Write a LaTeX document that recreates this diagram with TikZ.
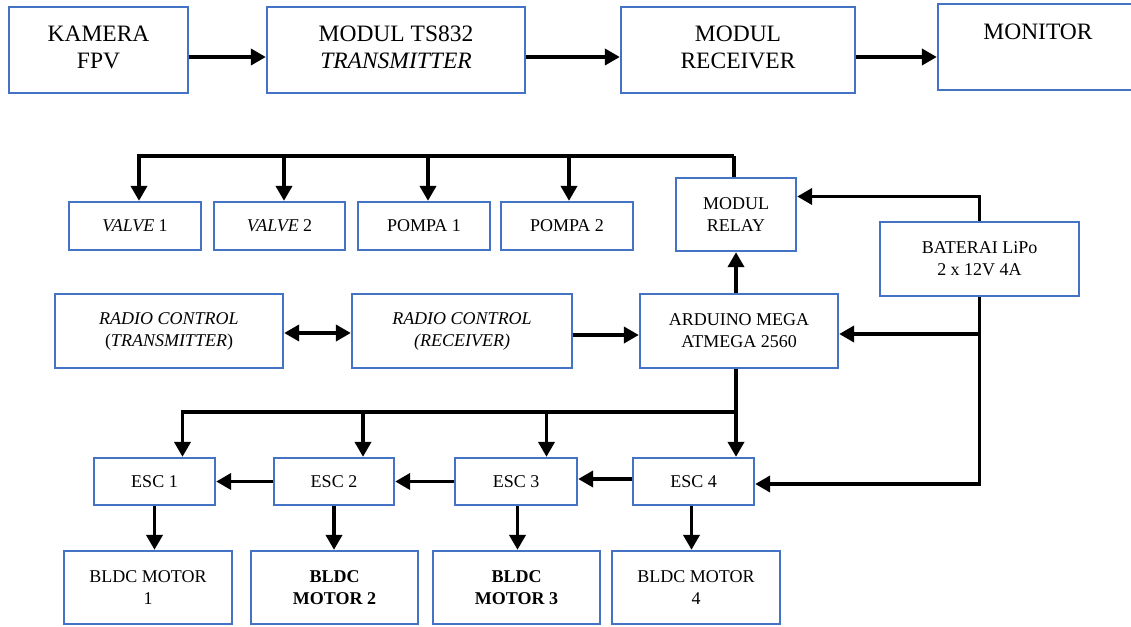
\documentclass[tikz,border=0pt]{standalone}
\usepackage{fontspec}
\setmainfont{Liberation Serif}
\usetikzlibrary{arrows.meta}
\definecolor{boxblue}{HTML}{4472C4}
\tikzset{
  box/.style={draw=boxblue, line width=2.3pt, align=center, inner sep=0pt, fill=white},
  bigfont/.style={font=\fontsize{23.5}{27}\selectfont},
  bigbox/.style={box, bigfont},
  bigtext/.style={label={[bigfont, align=center, yshift=3pt]center:{#1}}},
  smallbox/.style={box, font=\fontsize{18}{22}\selectfont},
  wire/.style={line width=3.9pt, line join=miter},
  arr/.style={wire, -{Triangle[length=15pt,width=16pt]}},
  darr/.style={wire, {Triangle[length=15pt,width=16pt]}-{Triangle[length=15pt,width=16pt]}}
}
\begin{document}
\begin{tikzpicture}[x=1pt,y=-1pt]
\useasboundingbox (0,0) rectangle (1131,626);

% video link
\node[bigbox, minimum width=179, minimum height=86, bigtext={KAMERA\\FPV}] (kam) at (98.5,50) {};
\node[bigbox, minimum width=258, minimum height=86, bigtext={MODUL TS832\\\textit{TRANSMITTER}}] (ts) at (396,50) {};
\node[bigbox, minimum width=234, minimum height=86, bigtext={MODUL\\RECEIVER}] (rcv) at (738,50) {};
\node[box, minimum width=200, minimum height=86,
      label={[anchor=north, yshift=-18pt, bigfont]north:MONITOR}] (mon) at (1038,47) {};

\draw[arr] ([yshift=-7pt]kam.east) -- ([yshift=-7pt]ts.west);
\draw[arr] ([yshift=-7pt]ts.east) -- ([yshift=-7pt]rcv.west);
\draw[arr] ([yshift=-7pt]rcv.east) -- ([yshift=-10pt]mon.west);

% actuators
\node[smallbox, minimum width=132, minimum height=48] (v1) at (135,226) {\textit{VALVE} 1};
\node[smallbox, minimum width=131, minimum height=48] (v2) at (279.5,226) {\textit{VALVE} 2};
\node[smallbox, minimum width=132, minimum height=48] (p1) at (424,226) {POMPA 1};
\node[smallbox, minimum width=132, minimum height=48] (p2) at (567,226) {POMPA 2};
\node[smallbox, minimum width=120, minimum height=73] (relay) at (736,214.5) {MODUL\\RELAY};
\node[smallbox, minimum width=199, minimum height=74] (bat) at (979.5,259) {BATERAI LiPo\\2 x 12V 4A};

% control
\node[smallbox, minimum width=228, minimum height=74] (rctx) at (169,331) {\textit{RADIO CONTROL}\\(\textit{TRANSMITTER})};
\node[smallbox, minimum width=220, minimum height=74] (rcrx) at (462,331) {\textit{RADIO CONTROL}\\\textit{(RECEIVER)}};
\node[smallbox, minimum width=198, minimum height=74] (ard) at (739,331) {ARDUINO MEGA\\ATMEGA 2560};

% drive
\node[smallbox, minimum width=121, minimum height=47] (esc1) at (154.5,481.5) {ESC 1};
\node[smallbox, minimum width=120, minimum height=47] (esc2) at (334,481.5) {ESC 2};
\node[smallbox, minimum width=122, minimum height=47] (esc3) at (516,481.5) {ESC 3};
\node[smallbox, minimum width=121, minimum height=47] (esc4) at (693.5,481.5) {ESC 4};

\node[smallbox, minimum width=168, minimum height=73] (m1) at (148,587.5) {BLDC MOTOR\\1};
\node[smallbox, minimum width=167, minimum height=73] (m2) at (334.5,587.5) {\textbf{BLDC}\\\textbf{MOTOR 2}};
\node[smallbox, minimum width=167, minimum height=73] (m3) at (516.5,587.5) {\textbf{BLDC}\\\textbf{MOTOR 3}};
\node[smallbox, minimum width=168, minimum height=73] (m4) at (696,587.5) {BLDC MOTOR\\4};

% relay outputs
\coordinate (rbus) at ([xshift=-2pt, yshift=21pt]relay.north);
\draw[wire] ([xshift=-2pt]relay.north) -- (rbus);
\draw[arr] (rbus) -| ([xshift=4pt]v1.north);
\draw[arr] ([xshift=4.5pt]v2.north |- rbus) -- ([xshift=4.5pt]v2.north);
\draw[arr] ([xshift=4pt]p1.north |- rbus) -- ([xshift=4pt]p1.north);
\draw[arr] ([xshift=2pt]p2.north |- rbus) -- ([xshift=2pt]p2.north);

% power
\draw[arr] (bat.north) |- ([yshift=18pt]relay.east);
\draw[arr] (bat.south) |- ([yshift=-2.5pt]esc4.east);
\draw[arr] (bat.south |- ard.east) ++(0,3) -- ([yshift=-3pt]ard.east);

% radio link
\draw[darr] ([yshift=-2pt]rctx.east) -- ([yshift=-2pt]rcrx.west);
\draw[arr] ([yshift=-4pt]rcrx.east) -- ([yshift=-4pt]ard.west);

% controller outputs
\draw[arr] (relay.south |- ard.north) -- (relay.south);
\coordinate (spine) at (relay.south |- ard.south);
\coordinate (ebus) at ([yshift=-43pt]spine);
\draw[arr] (spine) -- (spine |- esc4.north);
\draw[arr] (ebus) -| ([xshift=28pt]esc1.north);
\draw[arr] ([xshift=29pt]esc2.north |- ebus) -- ([xshift=29pt]esc2.north);
\draw[arr] ([xshift=30.5pt]esc3.north |- ebus) -- ([xshift=30.5pt]esc3.north);

% ESC chain
\draw[arr] ([yshift=2.5pt]esc4.west) -- ([yshift=2.5pt]esc3.east);
\draw[arr] (esc3.west) -- (esc2.east);
\draw[arr] (esc2.west) -- (esc1.east);

% ESC to motors
\draw[arr] (esc1.south) -- (esc1.south |- m1.north);
\draw[arr] (esc2.south) -- (esc2.south |- m2.north);
\draw[arr] ([xshift=1.5pt]esc3.south) -- ([xshift=1.5pt]esc3.south |- m3.north);
\draw[arr] ([xshift=-2pt]esc4.south) -- ([xshift=-2pt]esc4.south |- m4.north);
\end{tikzpicture}
\end{document}
